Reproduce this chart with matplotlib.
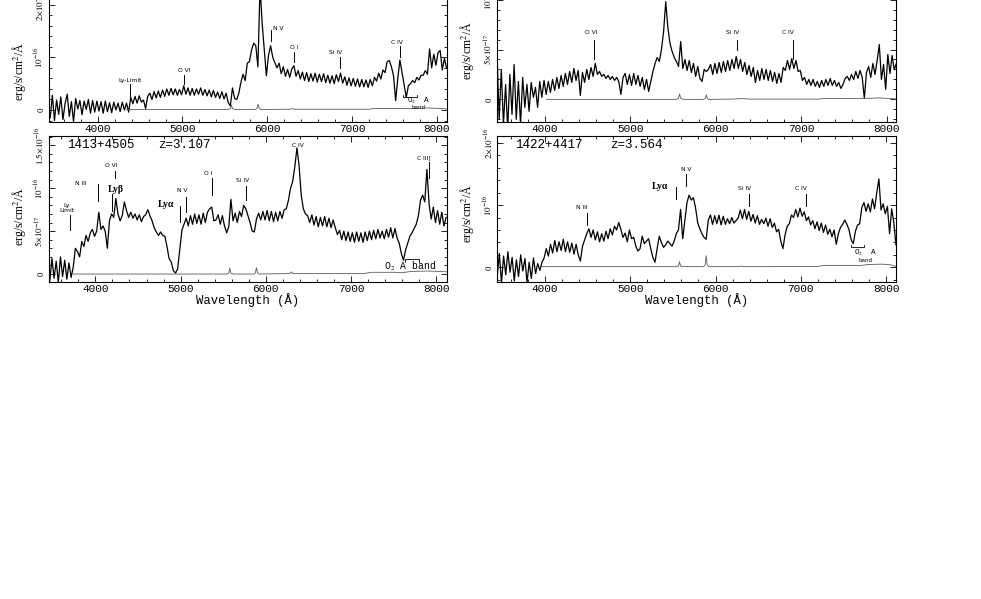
import numpy as np
import matplotlib.pyplot as plt
from matplotlib.ticker import MultipleLocator

plt.rcParams['mathtext.fontset'] = 'stix'

MONO = 'Liberation Mono'
SERIF = 'Liberation Serif'
SANS = 'DejaVu Sans'

# wavelength grid in Angstrom
wave = np.arange(3440, 8116, 25)

# fluxes in units of 1e-17 erg/s/cm^2/A, one row = 500 A
flux_tl = [
    -1.5, 2.8, -2.0, 1.9, -0.8, 2.5, -1.8, 1.2, 3.0, -1.2, 1.6, -2.2, 2.2, 0.2, 1.8, -0.9, 1.7, 0.1, 2.0, -0.6,
    1.8, -0.4, 1.7, -0.2, 1.6, -0.6, 1.7, -0.3, 1.4, -0.5, 1.5, 0.0, 1.3, -0.3, 1.5, 0.0, 1.3, -0.4, 2.4, 1.2,
    2.6, 1.3, 2.7, 1.5, 1.9, 0.3, 2.6, 3.2, 2.0, 3.5, 2.3, 3.6, 2.4, 3.8, 2.6, 4.0, 2.8, 4.1, 2.9, 4.0,
    2.8, 3.9, 2.9, 4.6, 3.0, 4.2, 2.8, 4.1, 2.8, 4.0, 3.0, 4.2, 2.8, 3.9, 2.7, 3.8, 2.5, 3.7, 2.4, 3.4,
    2.2, 3.5, 2.1, 3.2, 1.4, 0.8, 4.2, 2.2, 2.0, 3.2, 5.3, 6.8, 5.6, 8.9, 9.2, 11.4, 12.7, 12.2, 8.2, 23.5,
    16.5, 11.5, 6.5, 10.4, 12.2, 10.0, 9.0, 8.0, 8.9, 6.9, 8.2, 6.4, 7.7, 6.2, 7.8, 8.4, 6.4, 7.5, 5.9, 7.2,
    5.6, 7.1, 5.4, 6.9, 5.5, 7.0, 5.3, 6.8, 5.4, 6.9, 5.2, 6.6, 5.1, 6.5, 5.0, 6.7, 5.4, 7.0, 5.1, 6.3,
    4.7, 6.1, 4.6, 6.0, 4.5, 5.9, 4.4, 5.8, 4.4, 5.7, 4.3, 5.8, 4.6, 6.2, 5.5, 7.0, 5.9, 7.6, 7.1, 9.2,
    9.4, 8.2, 6.5, 1.8, 6.0, 9.5, 7.2, 4.8, 2.4, 4.6, 5.0, 5.6, 5.2, 6.2, 5.7, 6.6, 6.6, 7.5, 6.8, 11.6,
    8.0, 10.6, 8.5, 10.9, 11.3, 7.6, 9.8, 8.0,
]
flux_tr = [
    4.5, -2.0, 3.0, -2.5, 1.5, -3.0, 2.5, -1.5, 3.5, -2.0, 1.8, -2.5, 2.2, -0.8, 1.5, -1.2, 1.7, 0.2, 1.2, -0.8,
    1.8, 0.2, 1.9, 0.5, 1.8, 0.7, 2.0, 0.9, 2.2, 1.1, 2.4, 1.3, 2.6, 1.5, 2.8, 1.7, 3.1, 1.9, 2.9, 0.4,
    2.7, 1.7, 3.0, 2.0, 3.2, 2.3, 3.6, 2.5, 2.8, 2.3, 2.5, 2.1, 2.4, 2.0, 2.3, 1.9, 2.2, 1.8, 0.5, 2.2,
    2.6, 1.5, 2.5, 1.4, 2.6, 1.5, 2.4, 1.3, 2.2, 1.0, 2.0, 0.8, 1.8, 2.8, 3.6, 4.2, 3.8, 5.0, 6.8, 9.8,
    7.2, 5.6, 4.8, 4.2, 3.8, 3.3, 5.8, 3.1, 4.0, 2.9, 3.9, 2.7, 3.6, 2.3, 3.3, 2.1, 1.8, 3.0, 2.8, 3.0,
    3.5, 2.5, 3.6, 2.6, 3.7, 2.7, 3.8, 2.8, 3.9, 2.9, 4.0, 3.1, 4.3, 3.1, 4.0, 2.8, 3.7, 2.5, 3.4, 2.3,
    3.2, 1.7, 2.9, 1.9, 3.1, 2.0, 3.0, 1.9, 2.9, 1.8, 2.7, 1.6, 2.6, 1.7, 3.2, 2.9, 3.9, 3.0, 4.1, 3.1,
    3.9, 2.8, 2.9, 1.9, 2.2, 1.5, 2.0, 1.4, 2.0, 1.3, 1.8, 1.2, 1.9, 1.3, 2.0, 1.4, 2.1, 1.4, 1.9, 1.3,
    1.7, 1.1, 1.5, 2.1, 2.3, 1.9, 2.5, 2.0, 2.8, 2.1, 2.9, 2.2, 0.1, 2.7, 3.3, 2.2, 3.6, 2.5, 3.9, 5.5,
    2.0, 3.5, 1.0, 4.5, 2.6, 4.4, 3.0, 3.6,
]
flux_bl = [
    1.0, -0.8, 1.8, -0.5, 1.5, -1.0, 2.0, -0.3, 1.6, -0.6, 1.3, -0.4, 0.8, 3.0, 2.6, 2.0, 3.8, 3.2, 4.5, 3.8,
    4.8, 5.2, 4.4, 5.0, 7.2, 5.2, 5.6, 5.0, 3.0, 6.2, 7.0, 6.6, 8.8, 7.0, 6.2, 6.8, 8.4, 7.4, 6.6, 7.2,
    6.5, 7.0, 6.3, 6.9, 6.1, 6.7, 6.9, 7.5, 6.8, 6.2, 5.4, 4.9, 4.5, 4.9, 4.5, 4.4, 3.2, 1.8, 1.4, 0.4,
    0.1, 0.6, 2.8, 5.1, 5.8, 6.5, 5.6, 6.8, 5.8, 7.0, 5.9, 6.9, 5.8, 7.1, 6.0, 7.2, 7.6, 7.8, 6.2, 6.3,
    6.9, 5.8, 6.8, 5.6, 4.8, 5.5, 8.7, 6.2, 7.1, 6.0, 7.3, 6.7, 8.0, 7.6, 6.8, 6.0, 5.0, 4.9, 6.4, 7.1,
    6.3, 7.3, 6.3, 7.4, 6.2, 7.3, 6.1, 7.2, 6.2, 7.3, 6.5, 7.5, 7.6, 8.6, 10.0, 10.8, 12.5, 14.7, 12.6, 9.2,
    7.6, 7.0, 6.8, 6.0, 6.9, 5.7, 6.7, 5.5, 6.6, 5.6, 6.7, 5.5, 6.5, 5.4, 6.3, 5.4, 4.6, 5.1, 4.0, 5.0,
    3.9, 4.9, 3.8, 4.8, 3.7, 4.9, 3.8, 4.8, 3.7, 4.9, 3.9, 5.0, 4.0, 5.1, 4.1, 5.2, 4.2, 5.0, 4.1, 5.2,
    4.3, 5.4, 4.2, 5.3, 4.2, 3.6, 2.4, 1.6, 2.8, 3.6, 4.4, 4.8, 5.3, 5.8, 6.8, 8.6, 9.2, 8.4, 12.2, 8.2,
    6.4, 7.8, 6.0, 7.4, 5.8, 7.2, 5.6, 6.6,
]
flux_br = [
    -1.5, 2.2, -2.5, 1.8, -1.2, 2.5, -0.8, 1.6, -2.2, 1.2, -1.5, 2.0, -0.6, 1.4, -2.4, 0.8, -1.8, 1.5, -1.0, 0.6,
    -0.5, 0.8, 1.5, 3.0, 1.8, 3.7, 2.3, 4.3, 2.5, 4.1, 2.7, 4.5, 2.5, 4.1, 2.4, 3.9, 2.1, 3.7, 2.0, 1.0,
    3.4, 4.4, 5.4, 6.2, 4.8, 6.0, 4.4, 5.7, 4.1, 5.4, 4.2, 5.8, 4.6, 6.2, 5.2, 6.6, 6.0, 7.2, 6.1, 4.8,
    5.5, 4.1, 6.0, 4.6, 4.8, 3.4, 2.6, 3.0, 5.0, 3.8, 4.2, 4.6, 3.0, 1.6, 0.8, 3.0, 5.0, 4.0, 3.2, 3.6,
    4.2, 3.8, 3.4, 4.2, 5.4, 6.0, 9.3, 4.6, 7.5, 10.4, 11.6, 10.8, 11.2, 9.6, 7.2, 6.2, 5.4, 4.8, 4.5, 7.6,
    8.4, 6.9, 8.3, 7.0, 8.4, 6.8, 8.2, 6.9, 7.8, 7.0, 8.0, 7.1, 7.5, 7.9, 9.2, 7.8, 9.3, 7.7, 9.0, 7.4,
    8.5, 7.1, 8.3, 6.9, 7.7, 7.0, 7.9, 6.6, 7.8, 6.4, 7.1, 5.7, 6.1, 4.2, 3.0, 5.2, 6.6, 7.0, 8.4, 8.0,
    9.3, 8.1, 9.5, 8.2, 8.9, 7.5, 8.1, 6.8, 7.5, 6.2, 7.3, 5.9, 7.1, 5.6, 6.8, 5.3, 6.1, 4.9, 6.0, 3.7,
    5.4, 6.4, 6.9, 7.6, 6.9, 6.0, 4.4, 3.8, 5.8, 6.8, 7.0, 9.6, 10.4, 9.0, 10.2, 8.9, 11.0, 9.4, 12.0, 14.2,
    9.2, 10.2, 8.6, 9.8, 5.4, 9.4, 7.2, 3.6,
]

# sky spectra (wavelength, flux in 1e-17)
sky_tl_w = [4340, 5530, 5565, 5577, 5590, 5625, 5860, 5880, 5892, 5905, 5925, 6270, 6300, 6330,
            7200, 7260, 7500, 7700, 7880, 7960, 8040, 8120]
sky_tl = [0.1, 0.1, 0.25, 0.95, 0.25, 0.1, 0.1, 0.35, 1.1, 0.35, 0.1, 0.15, 0.25, 0.15,
          0.15, 0.3, 0.3, 0.25, 0.4, 0.35, 0.3, 0.2]
sky_tr_w = [4020, 5540, 5565, 5577, 5590, 5615, 5860, 5878, 5890, 5902, 5920, 6200, 6300, 6400,
            7200, 7260, 7600, 7850, 7900, 7960, 8110]
sky_tr = [0.0, 0.0, 0.1, 0.55, 0.1, 0.0, 0.0, 0.1, 0.45, 0.1, 0.0, 0.03, 0.08, 0.03,
          0.03, 0.08, 0.08, 0.12, 0.15, 0.12, 0.05]
sky_bl_w = [3740, 5540, 5565, 5577, 5590, 5615, 5860, 5878, 5890, 5902, 5920, 6280, 6300, 6320,
            7150, 7230, 7500, 7600, 7700, 7900, 8050, 8130]
sky_bl = [0.0, 0.0, 0.1, 0.7, 0.1, 0.0, 0.0, 0.15, 0.75, 0.15, 0.0, 0.05, 0.25, 0.05,
          0.05, 0.2, 0.2, 0.15, 0.3, 0.35, 0.3, 0.25]
sky_br_w = [3960, 5540, 5565, 5577, 5590, 5615, 5860, 5878, 5890, 5902, 5920, 6270, 6300, 6330,
            7200, 7260, 7550, 7700, 7800, 7950, 8050, 8115]
sky_br = [0.1, 0.1, 0.2, 0.9, 0.2, 0.1, 0.1, 0.4, 1.85, 0.4, 0.1, 0.1, 0.2, 0.1,
          0.12, 0.3, 0.3, 0.3, 0.45, 0.5, 0.4, 0.15]

x_major = [4000, 5000, 6000, 7000, 8000]

# line ids: text, tick wavelength, tick bottom, tick top, label x, label y, big?
lines_tl = [('Ly-Limit', 4381, 1.9, 4.9, 4381, 5.7, False),
            ('O VI', 5018, 4.9, 6.6, 5018, 7.6, False),
            ('N V', 6041, 13.1, 15.2, 6135, 15.4, False),
            ('O I', 6316, 9.1, 11.0, 6316, 11.8, False),
            ('Si IV', 6860, 8.0, 10.1, 6810, 11.0, False),
            ('C IV', 7568, 10.1, 12.1, 7535, 12.9, False)]
lines_tr = [('O VI', 4574, 4.0, 6.0, 4545, 6.7, False),
            ('Si IV', 6245, 5.0, 6.0, 6195, 6.7, False),
            ('C IV', 6907, 4.0, 6.0, 6840, 6.7, False)]
lines_bl = [('Ly\nLimit', 3703, 5.1, 6.9, 3667, 7.7, False),
            ('N III', 4028, 8.5, 10.5, 3830, 10.5, False),
            ('O VI', 4232, 11.2, 12.0, 4185, 12.7, False),
            ('Lyβ', 4193, 7.4, 9.3, 4240, 9.9, True),
            ('Lyα', 4996, 6.1, 7.9, 4828, 8.1, True),
            ('N V', 5063, 7.2, 9.0, 5016, 9.7, False),
            ('O I', 5369, 9.2, 11.2, 5322, 11.7, False),
            ('Si IV', 5769, 8.6, 10.3, 5722, 10.9, False),
            ('C IV', None, 0, 0, 6380, 15.0, False),
            ('C III]', 7909, 11.2, 13.1, 7857, 13.6, False)]
lines_br = [('N III', 4495, 6.8, 8.8, 4430, 9.6, False),
            ('Lyα', 5542, 10.9, 12.9, 5347, 13.0, True),
            ('N V', 5659, 13.0, 15.0, 5651, 15.7, False),
            ('Si IV', 6392, 9.9, 11.8, 6342, 12.6, False),
            ('C IV', 7056, 9.9, 11.8, 7006, 12.6, False)]

# O2 A band marks: bracket (x0, x1, y, end length), texts (text, x, y, size)
o2_tl = ((7607, 7764, 2.5, 0.4), [('O$_2$  A', 7790, 1.75, 5.5), ('band', 7780, 0.55, 4.2)])
o2_bl = ((7632, 7800, 1.7, -0.35), [('O$_2$ A band', 7690, 0.95, 7)])
o2_br = ((7592, 7739, 3.3, 0.35), [('O$_2$  A', 7765, 2.25, 5.5), ('band', 7757, 1.05, 4.2)])

fig = plt.figure(figsize=(9.81, 5.99), dpi=100)


def draw_panel(rect, flux, sky_w, sky_f, xlim, ylim, yticks, ylabels, yminor, ylab_y,
               lines, o2=None, title=None, xlabel=False):
    ax = fig.add_axes(rect)
    ax.plot(wave, flux, color='black', lw=0.9)
    ax.plot(sky_w, sky_f, color='0.35', lw=0.6)
    ax.set_xlim(*xlim)
    ax.set_ylim(*ylim)
    ax.set_xticks(x_major)
    ax.xaxis.set_minor_locator(MultipleLocator(200))
    ax.set_yticks(yticks)
    ax.set_yticklabels(ylabels, rotation=90, va='center', family=SERIF, fontsize=6.5)
    ax.yaxis.set_minor_locator(MultipleLocator(yminor))
    ax.tick_params(which='both', direction='in', top=True, right=True, width=0.6)
    ax.tick_params(which='major', length=4.5, pad=2.5)
    ax.tick_params(which='minor', length=2.2)
    ax.tick_params(axis='x', labelsize=8, pad=1.3)
    for lab in ax.get_xticklabels():
        lab.set_family(MONO)
    for sp in ax.spines.values():
        sp.set_linewidth(0.8)
    ax.set_ylabel('erg/s/cm$^2$/Å', family=SERIF, fontsize=8.5)
    ax.yaxis.set_label_coords(-0.053, ylab_y)
    if xlabel:
        ax.set_xlabel('Wavelength (Å)', family=MONO, fontsize=8.8, labelpad=-0.5)

    for text, tw, y0, y1, lx, ly, big in lines:
        if tw is not None:
            ax.plot([tw, tw], [y0, y1], color='black', lw=0.7)
        if big:
            ax.text(lx, ly, text, ha='center', va='center', family=SERIF,
                    fontsize=7, fontweight='bold')
        else:
            ax.text(lx, ly, text, ha='center', va='center', family=SANS,
                    fontsize=4.3, linespacing=0.9)

    if o2 is not None:
        (x0, x1, y, d), texts = o2
        ax.plot([x0, x0, x1, x1], [y + d, y, y, y + d], color='black', lw=0.6)
        for text, tx, ty, size in texts:
            ax.text(tx, ty, text, ha='center', va='center', family=MONO, fontsize=size)

    if title is not None:
        name, zlabel, zx = title
        ax.text(0.045, 0.938, name, transform=ax.transAxes, family=MONO,
                fontsize=9, va='center')
        ax.text(zx, 0.938, zlabel, transform=ax.transAxes, family=MONO,
                fontsize=9, va='center')
    return ax


draw_panel([0.0499, 0.7968, 0.4057, 0.2437], flux_tl, sky_tl_w, sky_tl,
           (3425, 8120), (-2.22, 25.5), [0, 10, 20],
           ['0', r'$10^{-16}$', r'$2{\times}10^{-16}$'], 2, 0.345,
           lines_tl, o2_tl)
draw_panel([0.5071, 0.7968, 0.4062, 0.2437], flux_tr, sky_tr_w, sky_tr,
           (3445, 8110), (-2.24, 12.4), [0, 5, 10],
           ['0', r'$5{\times}10^{-17}$', r'$10^{-16}$'], 1, 0.49,
           lines_tr)
draw_panel([0.0499, 0.5292, 0.4057, 0.2437], flux_bl, sky_bl_w, sky_bl,
           (3455, 8125), (-0.93, 16.08), [0, 5, 10, 15],
           ['0', r'$5{\times}10^{-17}$', r'$10^{-16}$', r'$1.5{\times}10^{-16}$'], 1, 0.45,
           lines_bl, o2_bl, ('1413+4505', 'z=3.107', 0.274), xlabel=True)
draw_panel([0.5071, 0.5292, 0.4062, 0.2437], flux_br, sky_br_w, sky_br,
           (3443, 8115), (-2.37, 21.1), [0, 10, 20],
           ['0', r'$10^{-16}$', r'$2{\times}10^{-16}$'], 2, 0.47,
           lines_br, o2_br, ('1422+4417', 'z=3.564', 0.282), xlabel=True)

fig.savefig('out.png', dpi=100)
